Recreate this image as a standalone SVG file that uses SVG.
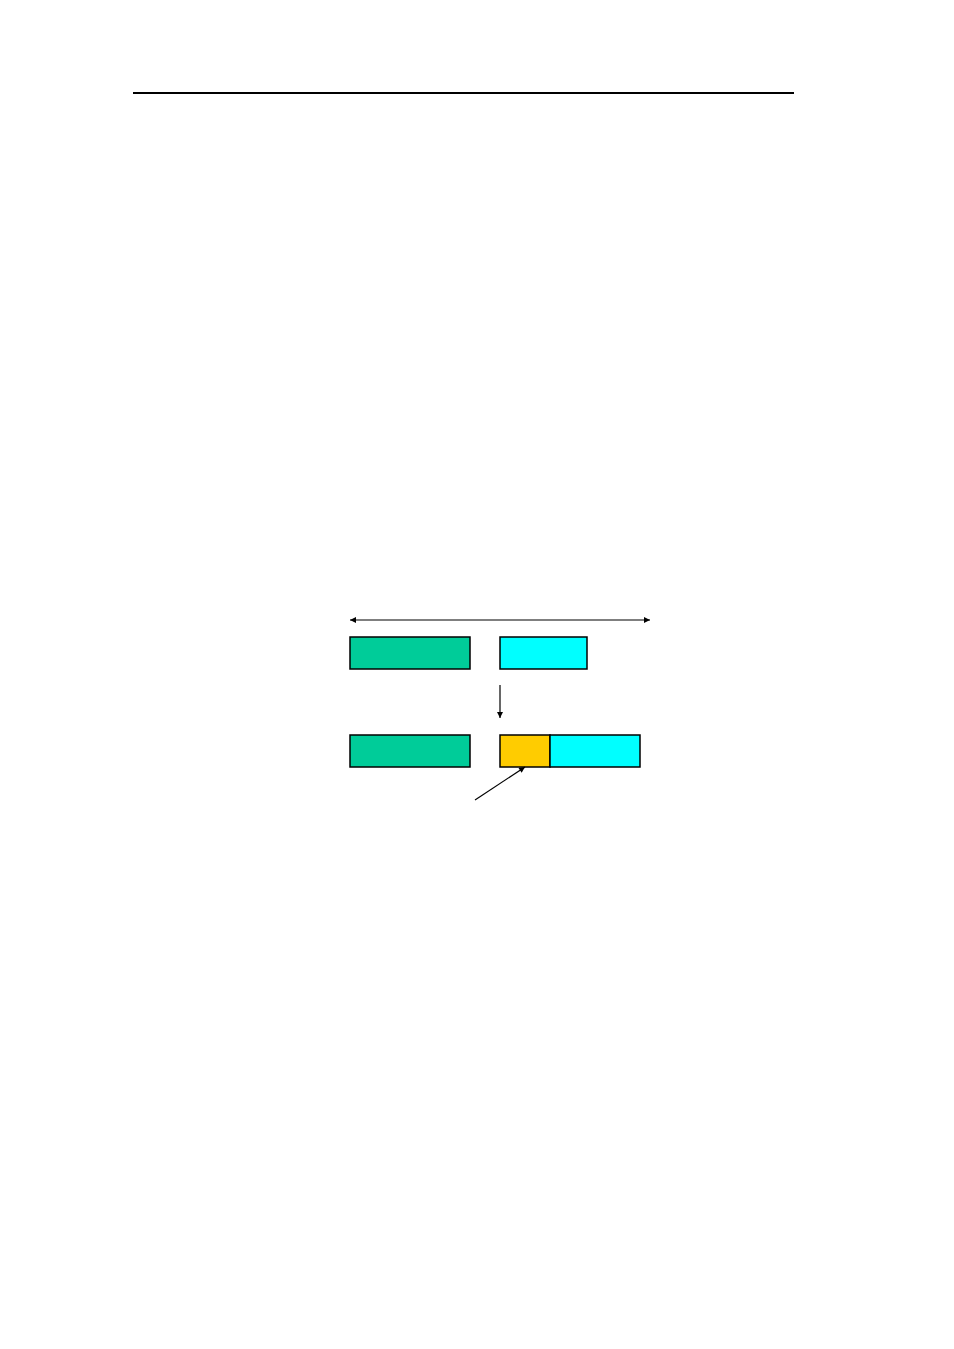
<svg xmlns="http://www.w3.org/2000/svg" width="954" height="1349" viewBox="0 0 954 1349">
<style>
.box{stroke:#000;stroke-width:1.5}
.green{fill:#00CC99}
.cyan{fill:#00FFFF}
.orange{fill:#FFCC00}
.conn{stroke:#000;stroke-width:1.2;fill:none}
</style>
<defs>
<marker id="ah" viewBox="0 0 10 10" refX="10" refY="5" markerWidth="8" markerHeight="6" markerUnits="userSpaceOnUse" orient="auto-start-reverse">
<path d="M0,0 L10,5 L0,10 z" fill="#000"/>
</marker>
</defs>
<rect width="954" height="1349" fill="#fff"/>
<line x1="133" y1="93" x2="794" y2="93" stroke="#000" stroke-width="2"/>
<g id="top-green"><rect class="box green" x="350" y="637" width="120" height="32"/></g>
<g id="top-cyan"><rect class="box cyan" x="500" y="637" width="87" height="32"/></g>
<g id="bottom-green"><rect class="box green" x="350" y="735" width="120" height="32"/></g>
<g id="bottom-orange"><rect class="box orange" x="500" y="735" width="50" height="32"/></g>
<g id="bottom-cyan"><rect class="box cyan" x="550" y="735" width="90" height="32"/></g>
<g id="connectors">
<line class="conn" x1="350" y1="620" x2="650" y2="620" marker-start="url(#ah)" marker-end="url(#ah)"/>
<line class="conn" x1="500" y1="685" x2="500" y2="718" marker-end="url(#ah)"/>
<line class="conn" x1="475" y1="800" x2="525" y2="767" marker-end="url(#ah)"/>
</g>
</svg>
